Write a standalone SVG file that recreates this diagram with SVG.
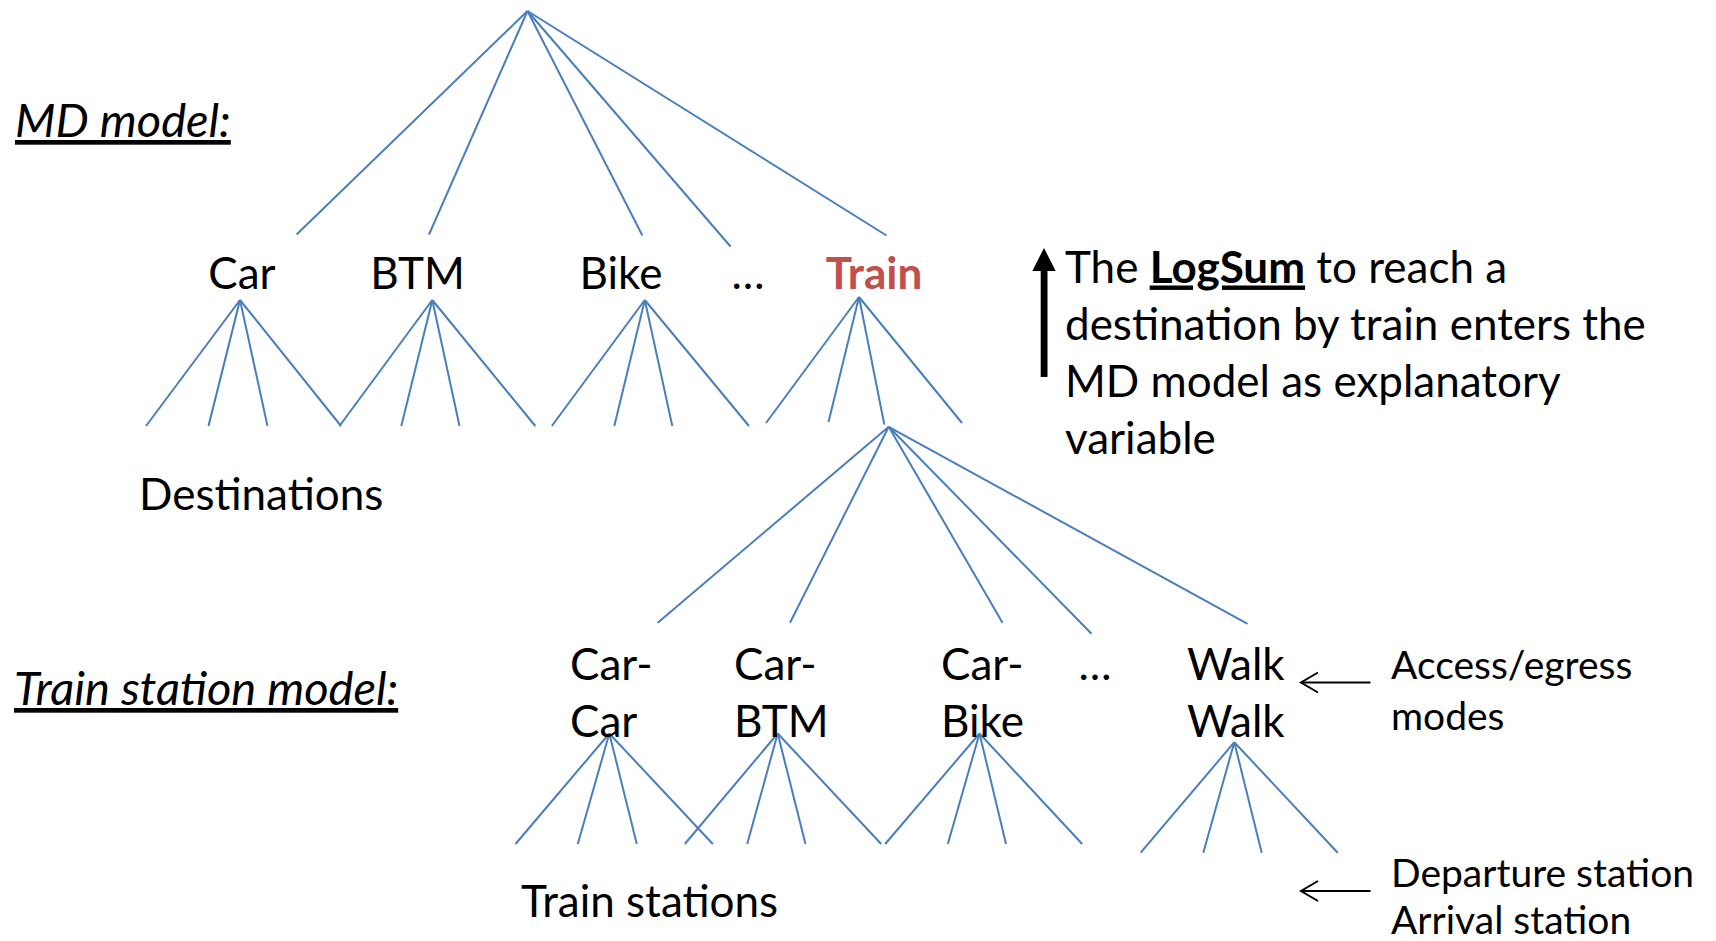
<svg xmlns="http://www.w3.org/2000/svg" width="1716" height="941" viewBox="0 0 1716 941">
<defs>
<style>
.t{font-family:Lato,"Open Sans","Liberation Sans",sans-serif;fill:#000;}
.m{font-size:44px;}
.s{font-size:39px;}
.h{font-size:47px;font-style:italic;text-decoration:underline;}
.red{fill:#C0504D;font-weight:bold;}
.c line{stroke:#4A7EBB;stroke-width:2;fill:none;}
.ar{stroke:#000;stroke-width:2;fill:none;}
</style>
<marker id="open" markerWidth="22" markerHeight="24" refX="19" refY="12" orient="auto" markerUnits="userSpaceOnUse">
<path d="M2,2 L19,12 L2,22" fill="none" stroke="#000" stroke-width="2"/>
</marker>
</defs>
<rect width="1716" height="941" fill="#fff"/>

<g id="connectors" class="c">
<!-- root -->
<line x1="527.5" y1="11" x2="296.6" y2="234.5"/>
<line x1="527.5" y1="11" x2="429" y2="234.5"/>
<line x1="527.5" y1="11" x2="642.4" y2="235.5"/>
<line x1="527.5" y1="11" x2="730.5" y2="246.5"/>
<line x1="527.5" y1="11" x2="886.5" y2="235.5"/>
<!-- Car -->
<line x1="240" y1="300" x2="146" y2="426"/>
<line x1="240" y1="300" x2="208.5" y2="426"/>
<line x1="240" y1="300" x2="267.5" y2="426"/>
<line x1="240" y1="300" x2="341" y2="426"/>
<!-- BTM -->
<line x1="432.3" y1="300" x2="339.5" y2="426"/>
<line x1="432.3" y1="300" x2="401.3" y2="426"/>
<line x1="432.3" y1="300" x2="459.5" y2="426"/>
<line x1="432.3" y1="300" x2="535.3" y2="426"/>
<!-- Bike -->
<line x1="644.8" y1="300" x2="551.8" y2="426"/>
<line x1="644.8" y1="300" x2="614.3" y2="426"/>
<line x1="644.8" y1="300" x2="672.3" y2="426"/>
<line x1="644.8" y1="300" x2="749" y2="426"/>
<!-- Train -->
<line x1="859" y1="297" x2="766" y2="423"/>
<line x1="859" y1="297" x2="828.5" y2="422"/>
<line x1="859" y1="297" x2="884.3" y2="424.5"/>
<line x1="859" y1="297" x2="962" y2="423"/>
<!-- Train station model root -->
<line x1="888.7" y1="426.8" x2="657.7" y2="622.7"/>
<line x1="888.7" y1="426.8" x2="790" y2="622.7"/>
<line x1="888.7" y1="426.8" x2="1002.5" y2="622.7"/>
<line x1="888.7" y1="426.8" x2="1091.5" y2="633.7"/>
<line x1="888.7" y1="426.8" x2="1247.6" y2="623.8"/>
<!-- Car-Car -->
<line x1="609.3" y1="733.5" x2="515.5" y2="844"/>
<line x1="609.3" y1="733.5" x2="577.8" y2="844"/>
<line x1="609.3" y1="733.5" x2="636.8" y2="844"/>
<line x1="609.3" y1="733.5" x2="712.8" y2="844"/>
<!-- Car-BTM -->
<line x1="777.7" y1="733.5" x2="684.8" y2="844"/>
<line x1="777.7" y1="733.5" x2="747.2" y2="844"/>
<line x1="777.7" y1="733.5" x2="805.5" y2="844"/>
<line x1="777.7" y1="733.5" x2="881.2" y2="844"/>
<!-- Car-Bike -->
<line x1="979.5" y1="733.5" x2="885.2" y2="844"/>
<line x1="979.5" y1="733.5" x2="947.8" y2="844"/>
<line x1="979.5" y1="733.5" x2="1006" y2="844"/>
<line x1="979.5" y1="733.5" x2="1082.2" y2="844"/>
<!-- Walk-Walk -->
<line x1="1234.3" y1="742.2" x2="1140.7" y2="852.7"/>
<line x1="1234.3" y1="742.2" x2="1203.3" y2="852.7"/>
<line x1="1234.3" y1="742.2" x2="1261.7" y2="852.7"/>
<line x1="1234.3" y1="742.2" x2="1337.7" y2="852.7"/>
</g>

<g id="md-model-title"><text class="t h" x="15" y="137">MD model:</text></g>
<g id="ts-model-title"><text class="t h" x="14" y="705">Train station model:</text></g>

<g id="node-car"><text class="t m" x="242" y="289" text-anchor="middle">Car</text></g>
<g id="node-btm"><text class="t m" x="417.5" y="289" text-anchor="middle">BTM</text></g>
<g id="node-bike"><text class="t m" x="621" y="289" text-anchor="middle">Bike</text></g>
<g id="node-dots1"><text class="t m" x="748" y="289" text-anchor="middle">…</text></g>
<g id="node-train"><text class="t m red" x="874" y="289" text-anchor="middle">Train</text></g>

<g id="label-destinations"><text class="t m" x="139" y="510">Destinations</text></g>

<g id="node-car-car"><text class="t m" x="570" y="680">Car-</text><text class="t m" x="570" y="737">Car</text></g>
<g id="node-car-btm"><text class="t m" x="734" y="680">Car-</text><text class="t m" x="734" y="737">BTM</text></g>
<g id="node-car-bike"><text class="t m" x="941" y="680">Car-</text><text class="t m" x="941" y="737">Bike</text></g>
<g id="node-dots2"><text class="t m" x="1095" y="680" text-anchor="middle">…</text></g>
<g id="node-walk-walk"><text class="t m" x="1187" y="680">Walk</text><text class="t m" x="1187" y="737">Walk</text></g>

<g id="label-train-stations"><text class="t m" x="521" y="917">Train stations</text></g>

<g id="logsum-note">
<path d="M1040.7,377 L1040.7,271 L1032.3,271 L1044,248 L1055.7,271 L1047.5,271 L1047.5,377 Z" fill="#000"/>
<text class="t m" x="1065" y="282.5">The <tspan font-weight="bold" text-decoration="underline">LogSum</tspan> to reach a</text>
<text class="t m" x="1065" y="339.5">destination by train enters the</text>
<text class="t m" x="1065" y="397">MD model as explanatory</text>
<text class="t m" x="1065" y="454">variable</text>
</g>

<g id="label-access">
<line class="ar" x1="1370.5" y1="682.5" x2="1301" y2="682.5" marker-end="url(#open)"/>
<text class="t s" x="1391" y="679">Access/egress</text>
<text class="t s" x="1391" y="730">modes</text>
</g>
<g id="label-stations">
<line class="ar" x1="1370.5" y1="891" x2="1301" y2="891" marker-end="url(#open)"/>
<text class="t s" x="1391" y="887">Departure station</text>
<text class="t s" x="1391" y="934">Arrival station</text>
</g>
</svg>
